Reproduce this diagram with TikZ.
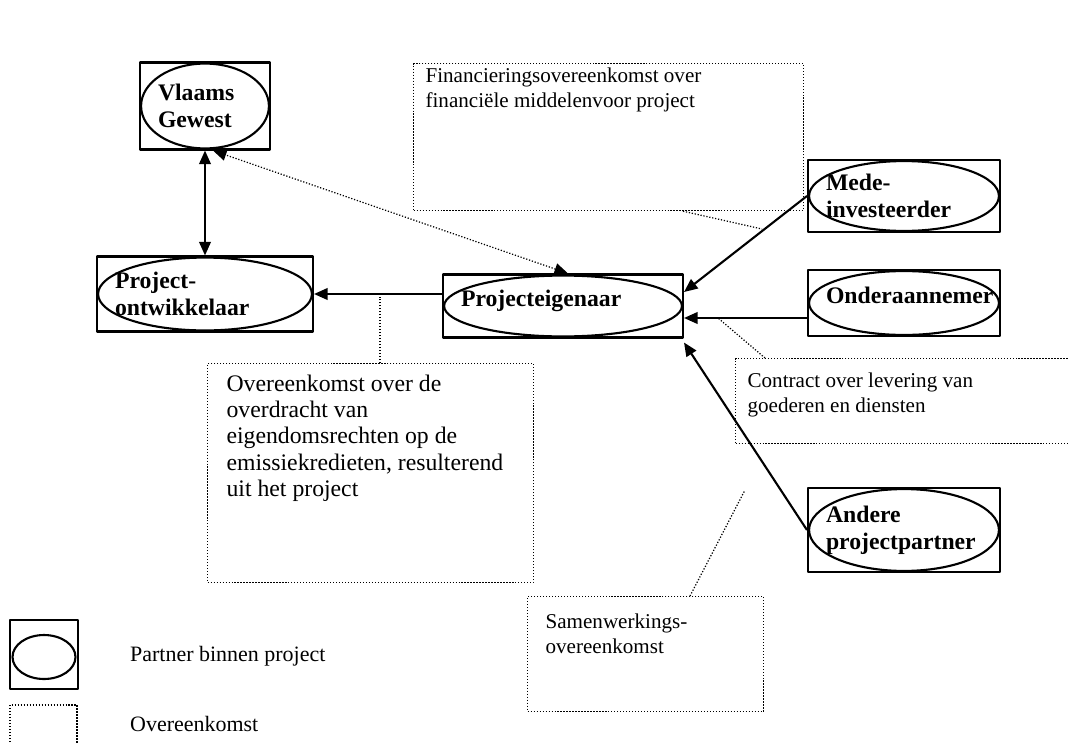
\documentclass[tikz,border=0pt]{standalone}
\usepackage{fontspec}
\setmainfont{Liberation Serif}
\usetikzlibrary{arrows.meta,calc}
\tikzset{
  partner/.style={draw, line width=1.2pt, rectangle, align=left, inner xsep=0.36cm, inner ysep=0pt,
    font=\fontsize{13.5}{15.2}\selectfont\bfseries,
    path picture={\draw[line width=1.2pt] let \p1=(path picture bounding box.north east),
      \p2=(path picture bounding box.center) in
      (\p2) ellipse [x radius={\x1-\x2-0.6pt}, y radius={\y1-\y2-0.6pt}];}},
  agreement/.style={draw, densely dotted, line width=0.7pt, anchor=north west,
    inner xsep=0.24cm, inner ysep=0.16cm},
  link/.style={line width=1.2pt, -{Triangle[length=0.27cm,width=0.23cm]}},
  twoway/.style={{Triangle[length=0.27cm,width=0.23cm]}-{Triangle[length=0.27cm,width=0.23cm]}},
  callout/.style={densely dotted, line width=0.7pt},
}
% text of an agreement box: width, height, top shift, lines
\newcommand{\agreetext}[4]{\parbox[c][#2][t]{#1}{\vspace*{#3}\raggedright\fontsize{12}{13.9}\selectfont\strut #4}}
\begin{document}
\begin{tikzpicture}[x=0.02cm, y=-0.02cm, line join=round]
\useasboundingbox (0,0) rectangle (1069,744);
% partners
\node[partner, text width=1.88cm, minimum height=1.74cm] (vlaams) at (205,106) {Vlaams\\Gewest};
\node[partner, text width=3.6cm, minimum height=1.5cm] (ontw) at (205,294) {Project-\\ontwikkelaar};
\node[partner, text width=4.08cm, minimum height=1.26cm, text depth=0.3cm] (eigenaar) at (563,306) {Projecteigenaar};
\node[partner, text width=3.12cm, minimum height=1.44cm] (mede) at (904,196) {Mede-\\investeerder};
\node[partner, text width=3.12cm, minimum height=1.32cm, text depth=0.3cm] (onder) at (904,303) {Onderaannemer};
\node[partner, text width=3.12cm, minimum height=1.68cm] (andere) at (904,530) {Andere\\projectpartner};
% agreements
\node[agreement] (financiering) at (413,63) {\agreetext{7.32cm}{2.62cm}{-0.12cm}{Financieringsovereenkomst over\\financiële middelenvoor project}};
\node[agreement, inner xsep=0.38cm] (overdracht) at (207,363) {\parbox[c][4.06cm][t]{5.76cm}{\vspace*{0.02cm}\raggedright\fontsize{13.5}{15}\selectfont\strut
  Overeenkomst over de\\overdracht van\\eigendomsrechten op de\\emissiekredieten, resulterend\\uit het project}};
\node[agreement] (contract) at (735,358) {\agreetext{6.62cm}{1.38cm}{0.08cm}{Contract over levering van\\goederen en diensten}};
\node[agreement, inner xsep=0.36cm] (samen) at (527,596) {\agreetext{4.0cm}{1.98cm}{0.14cm}{Samenwerkings-\\overeenkomst}};
% connectors
\draw[link, twoway] (vlaams) -- (ontw);
\draw[callout, twoway] ([xshift=0.1cm]eigenaar.north) -- ([xshift=0.16cm]vlaams.south);
\draw[link] (eigenaar.west |- ontw.east) -- (ontw.east);
\draw[link] (mede.west) -- ([yshift=0.28cm]eigenaar.east);
\draw[link] ([yshift=-0.3cm]onder.west) -- ([yshift=-0.3cm]onder.west -| eigenaar.east);
\draw[link] (andere.west) -- ([yshift=-0.08cm]eigenaar.south east);
% callouts
\coordinate (finend) at (762,229);
\coordinate (samenend) at (745,490);
\draw[callout] (financiering.south -| 683,0) -- (finend);
\draw[callout] (overdracht.north -| 380,0) -- (380,297);
\draw[callout] (contract.north -| 765,0) -- (718,318);
\draw[callout] (samen.north -| 690,0) -- (samenend);
% legend
\draw[line width=1.2pt] (10,620) rectangle (78,689);
\draw[line width=1.2pt] (44,657) ellipse [x radius=0.63cm, y radius=0.44cm];
\draw[callout] (10,760) |- (77,705) -- (77,760);
\node[anchor=west, font=\fontsize{12.5}{14}\selectfont] (legpartner) at (124,656) {Partner binnen project};
\node[anchor=west, font=\fontsize{12.5}{14}\selectfont] (legagree) at (124,724) {Overeenkomst};
\end{tikzpicture}
\end{document}
